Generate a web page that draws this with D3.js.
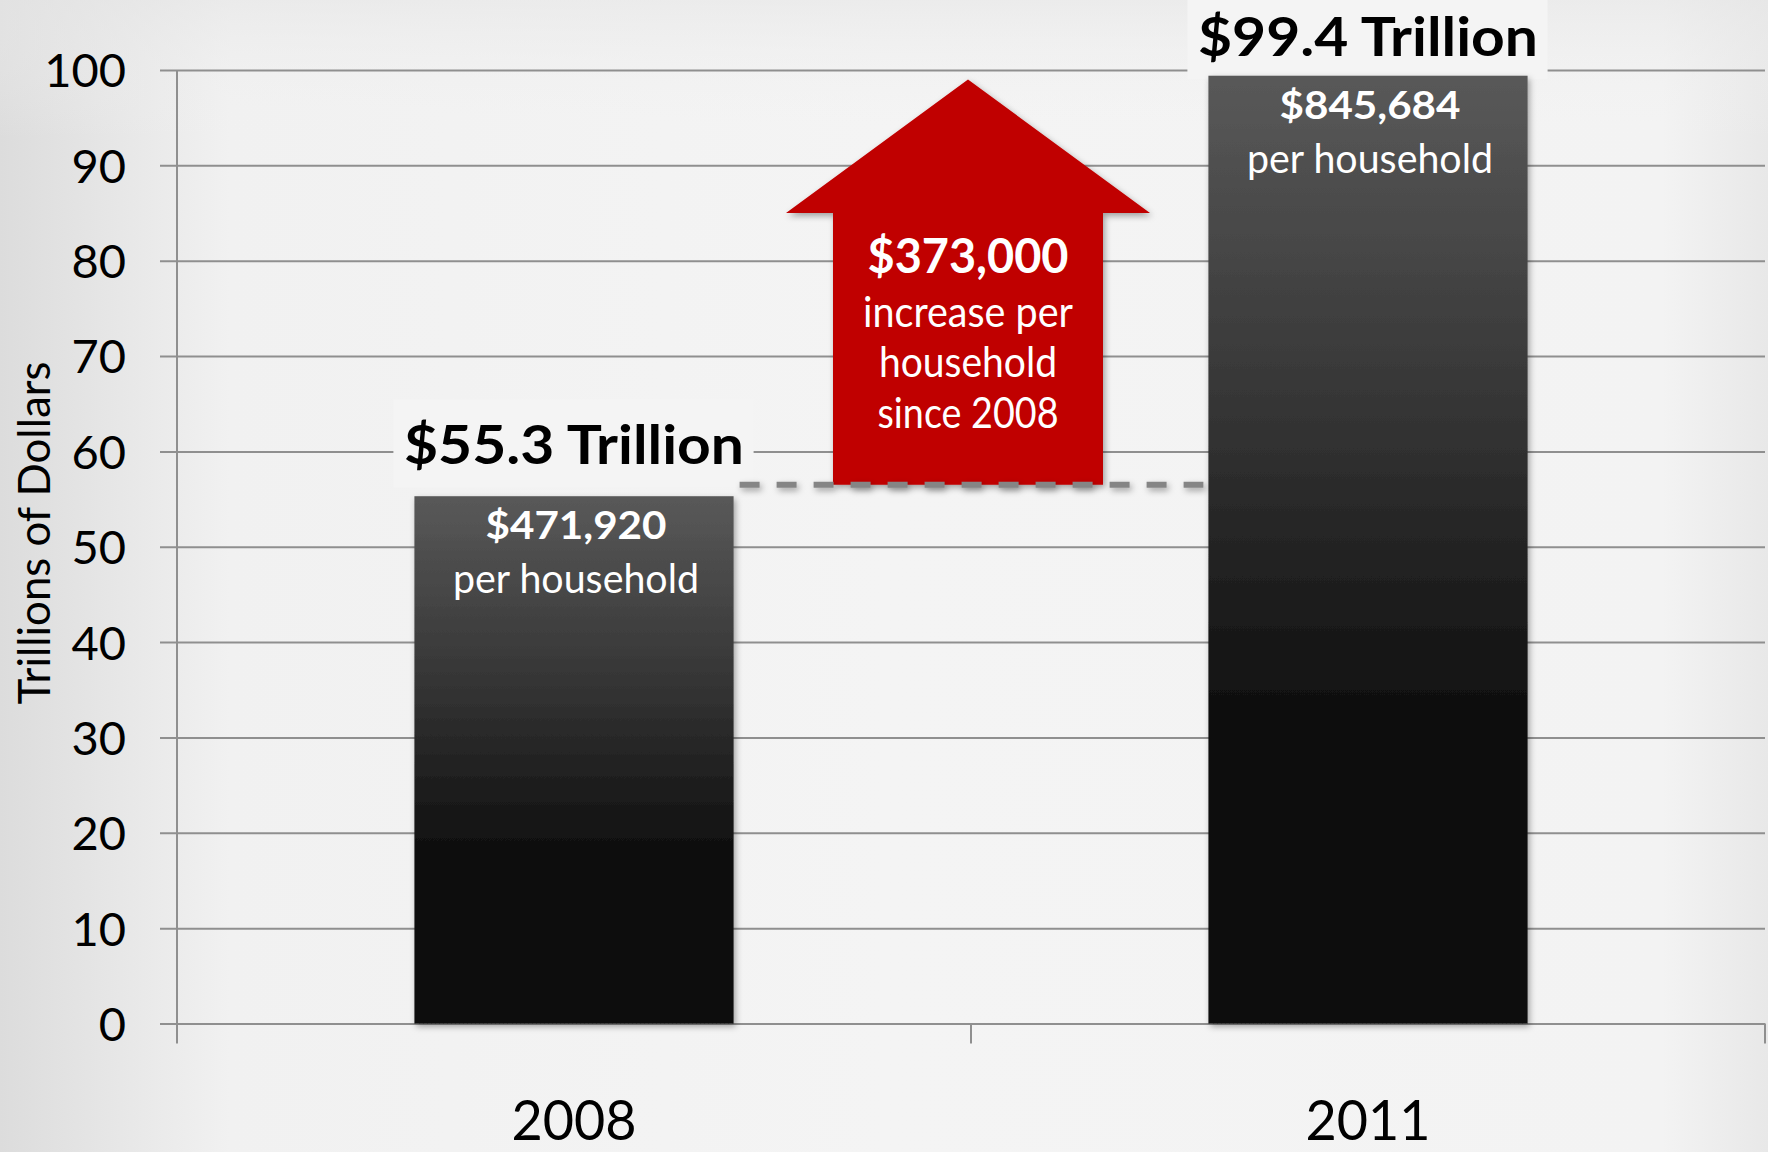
<!DOCTYPE html>
<html>
<head>
<meta charset="utf-8">
<script src="https://cdn.jsdelivr.net/npm/d3@7"></script>
<style>
  body { margin: 0; background: #f4f4f4; }
  svg { display: block; font-family: Lato, "Open Sans", sans-serif; }
</style>
</head>
<body>
<div class="chart"></div>
<script>
const categories = ['2008', '2011']
const totals = [55.3, 99.4]
const totalLabels = ['$55.3 Trillion', '$99.4 Trillion']
const perHousehold = ['$471,920', '$845,684']
const yTicks = [0, 10, 20, 30, 40, 50, 60, 70, 80, 90, 100]
const yTitle = 'Trillions of Dollars'

// increase arrow between the bars
const startLevel = 56.5
const arrowHeadBase = 85
const arrowTip = 99
const arrowLines = ['$373,000', 'increase per', 'household', 'since 2008']

const width = 1768
const height = 1152
const plot = { left: 177, right: 1765, top: 70, bottom: 1023.5 }

const svg = d3.select('.chart').append('svg')
  .attr('width', width)
  .attr('height', height)

const defs = svg.append('defs')

const bg = defs.append('linearGradient').attr('id', 'bg')
bg.append('stop').attr('offset', 0).attr('stop-color', '#dcdcdc')
bg.append('stop').attr('offset', 0.13).attr('stop-color', '#f1f1f1')
bg.append('stop').attr('offset', 0.5).attr('stop-color', '#f4f4f4')
bg.append('stop').attr('offset', 0.94).attr('stop-color', '#f3f3f3')
bg.append('stop').attr('offset', 1).attr('stop-color', '#e8e8e8')

const bgTop = defs.append('linearGradient').attr('id', 'bgTop')
  .attr('x1', 0).attr('y1', 0).attr('x2', 0).attr('y2', 1)
bgTop.append('stop').attr('offset', 0).attr('stop-color', '#e6e6e6').attr('stop-opacity', 0.6)
bgTop.append('stop').attr('offset', 0.12).attr('stop-color', '#f4f4f4').attr('stop-opacity', 0)

const barFill = defs.append('linearGradient').attr('id', 'barFill')
  .attr('x1', 0).attr('y1', 0).attr('x2', 0).attr('y2', 1)
barFill.append('stop').attr('offset', 0).attr('stop-color', '#595959')
barFill.append('stop').attr('offset', 0.35).attr('stop-color', '#353535')
barFill.append('stop').attr('offset', 0.68).attr('stop-color', '#0e0e0e')
barFill.append('stop').attr('offset', 1).attr('stop-color', '#0d0d0d')

const shadow = defs.append('filter').attr('id', 'shadow')
  .attr('filterUnits', 'userSpaceOnUse')
  .attr('x', 0).attr('y', 0).attr('width', width).attr('height', height)
shadow.append('feDropShadow')
  .attr('dx', 2).attr('dy', 3).attr('stdDeviation', 3)
  .attr('flood-color', '#000').attr('flood-opacity', 0.35)

svg.append('rect').attr('width', width).attr('height', height).attr('fill', 'url(#bg)')
svg.append('rect').attr('width', width).attr('height', height).attr('fill', 'url(#bgTop)')

const x = d3.scaleBand().domain(categories).range([plot.left, plot.right])
const y = d3.scaleLinear().domain([0, 100]).range([plot.bottom, plot.top])
const barW = x.bandwidth() * 0.402
const barX = c => x(c) + (x.bandwidth() - barW) / 2
const mid = c => x(c) + x.bandwidth() / 2

// gridlines + y labels
const yAxis = svg.append('g')
  .attr('transform', `translate(${plot.right}, 0)`)
  .call(d3.axisLeft(y).tickValues(yTicks).tickSize(plot.right - 160).tickPadding(34))
  .attr('font-family', null).attr('font-size', null)
yAxis.select('.domain').remove()
yAxis.selectAll('.tick line').attr('stroke', '#8f8f8f').attr('stroke-width', 2)
yAxis.selectAll('.tick text')
  .attr('fill', '#000')
  .style('font-size', '47px')
  .attr('dy', '0.36em')

// vertical axis + category ticks
svg.append('line')
  .attr('x1', plot.left).attr('x2', plot.left)
  .attr('y1', plot.top).attr('y2', plot.bottom + 20)
  .attr('stroke', '#8f8f8f').attr('stroke-width', 2)

const bounds = categories.map(c => x(c)).concat([x(categories[categories.length - 1]) + x.bandwidth()])
svg.selectAll('.cat-tick')
  .data(bounds.slice(1))
  .enter().append('line')
  .attr('x1', d => d).attr('x2', d => d)
  .attr('y1', plot.bottom).attr('y2', plot.bottom + 20)
  .attr('stroke', '#8f8f8f').attr('stroke-width', 2)

const xAxis = svg.append('g')
  .attr('transform', `translate(0, ${plot.bottom})`)
  .call(d3.axisBottom(x).tickSize(0))
  .attr('font-family', null).attr('font-size', null)
xAxis.select('.domain').remove()
xAxis.selectAll('.tick text')
  .attr('y', 116).attr('dy', 0)
  .attr('fill', '#000')
  .style('font-size', '57px')
  .attr('textLength', 125).attr('lengthAdjust', 'spacingAndGlyphs')

svg.append('text')
  .attr('transform', `translate(50, 533) rotate(-90)`)
  .attr('text-anchor', 'middle')
  .style('font-size', '44px')
  .attr('textLength', 343).attr('lengthAdjust', 'spacingAndGlyphs')
  .text(yTitle)

const labelBase = v => Math.max(y(v) - 32, 56)

// label backing boxes hide gridlines
svg.selectAll('.label-box')
  .data(categories)
  .enter().append('rect')
  .attr('x', c => barX(c) - 21)
  .attr('y', (c, i) => labelBase(totals[i]) - 65)
  .attr('width', barW + 41)
  .attr('height', 88)
  .attr('fill', '#f4f4f4')

// bars
svg.selectAll('.bar')
  .data(categories)
  .enter().append('rect')
  .attr('x', c => barX(c))
  .attr('y', (c, i) => y(totals[i]))
  .attr('width', barW)
  .attr('height', (c, i) => y(0) - y(totals[i]))
  .attr('fill', 'url(#barFill)')
  .attr('filter', 'url(#shadow)')

svg.selectAll('.total')
  .data(categories)
  .enter().append('text')
  .attr('x', c => mid(c))
  .attr('y', (c, i) => labelBase(totals[i]))
  .attr('text-anchor', 'middle')
  .style('font-size', '53px').style('font-weight', 700)
  .attr('textLength', 340).attr('lengthAdjust', 'spacingAndGlyphs')
  .text((c, i) => totalLabels[i])

svg.selectAll('.per-value')
  .data(categories)
  .enter().append('text')
  .attr('x', c => mid(c) + 2)
  .attr('y', (c, i) => y(totals[i]) + 43)
  .attr('text-anchor', 'middle')
  .attr('fill', '#fff')
  .style('font-size', '39px').style('font-weight', 700)
  .attr('textLength', 181).attr('lengthAdjust', 'spacingAndGlyphs')
  .text((c, i) => perHousehold[i])

svg.selectAll('.per-label')
  .data(categories)
  .enter().append('text')
  .attr('x', c => mid(c) + 2)
  .attr('y', (c, i) => y(totals[i]) + 97)
  .attr('text-anchor', 'middle')
  .attr('fill', '#fff')
  .style('font-size', '40px')
  .attr('textLength', 246).attr('lengthAdjust', 'spacingAndGlyphs')
  .text('per household')

// arrow
const ax = x(categories[1]) - 3
const headHalf = 182, shaftHalf = 135
const arrowPts = [
  [ax, y(arrowTip)],
  [ax + headHalf, y(arrowHeadBase)],
  [ax + shaftHalf, y(arrowHeadBase)],
  [ax + shaftHalf, y(startLevel)],
  [ax - shaftHalf, y(startLevel)],
  [ax - shaftHalf, y(arrowHeadBase)],
  [ax - headHalf, y(arrowHeadBase)]
]
svg.append('path')
  .attr('d', d3.line()(arrowPts) + 'Z')
  .attr('fill', '#c00000')
  .attr('filter', 'url(#shadow)')

const lineY = [y(arrowHeadBase) + 60, y(arrowHeadBase) + 114, y(arrowHeadBase) + 164, y(arrowHeadBase) + 215]
const lineW = [201, 210, 178, 181]
svg.selectAll('.arrow-text')
  .data(arrowLines)
  .enter().append('text')
  .attr('x', ax)
  .attr('y', (d, i) => lineY[i])
  .attr('text-anchor', 'middle')
  .attr('fill', '#fff')
  .style('font-size', (d, i) => i === 0 ? '48px' : '42px')
  .style('font-weight', (d, i) => i === 0 ? 700 : 400)
  .attr('textLength', (d, i) => lineW[i]).attr('lengthAdjust', 'spacingAndGlyphs')
  .text(d => d)

// dashed reference line
svg.append('line')
  .attr('x1', barX(categories[0]) + barW + 6)
  .attr('x2', barX(categories[1]) - 5)
  .attr('y1', y(startLevel)).attr('y2', y(startLevel))
  .attr('stroke', '#858585').attr('stroke-width', 6)
  .attr('stroke-dasharray', '20 17')
  .attr('filter', 'url(#shadow)')
</script>
</body>
</html>
